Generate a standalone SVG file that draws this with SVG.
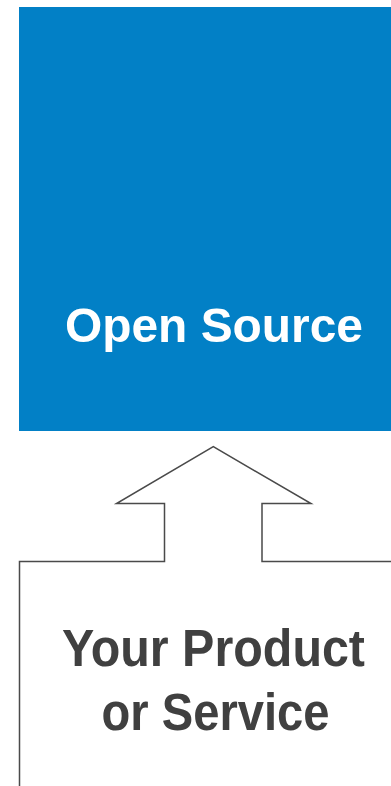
<svg xmlns="http://www.w3.org/2000/svg" width="391" height="786" viewBox="0 0 391 786">
<style>
.lbl{font-family:"Liberation Sans",Arial,sans-serif;font-weight:bold;text-anchor:middle}
</style>
<rect width="391" height="786" fill="#ffffff"/>
<g id="open-source">
<rect x="19" y="7" width="380" height="424" fill="#0280C6"/>
<text class="lbl" x="214" y="341.5" font-size="49" fill="#ffffff" textLength="298" lengthAdjust="spacingAndGlyphs">Open Source</text>
</g>
<g id="product">
<path d="M19.5,790 L19.5,561.5 L164.5,561.5 L164.5,503.5 L116.5,503.5 L213.3,446.7 L311,503.5 L262,503.5 L262,561.5 L400,561.5" fill="none" stroke="#4a4a4a" stroke-width="1.5"/>
<text class="lbl" x="213.5" y="666" font-size="51" fill="#404040" textLength="303" lengthAdjust="spacingAndGlyphs">Your Product</text>
<text class="lbl" x="215.5" y="730" font-size="51" fill="#404040" textLength="228" lengthAdjust="spacingAndGlyphs">or Service</text>
</g>
<g id="connectors"></g>
</svg>
